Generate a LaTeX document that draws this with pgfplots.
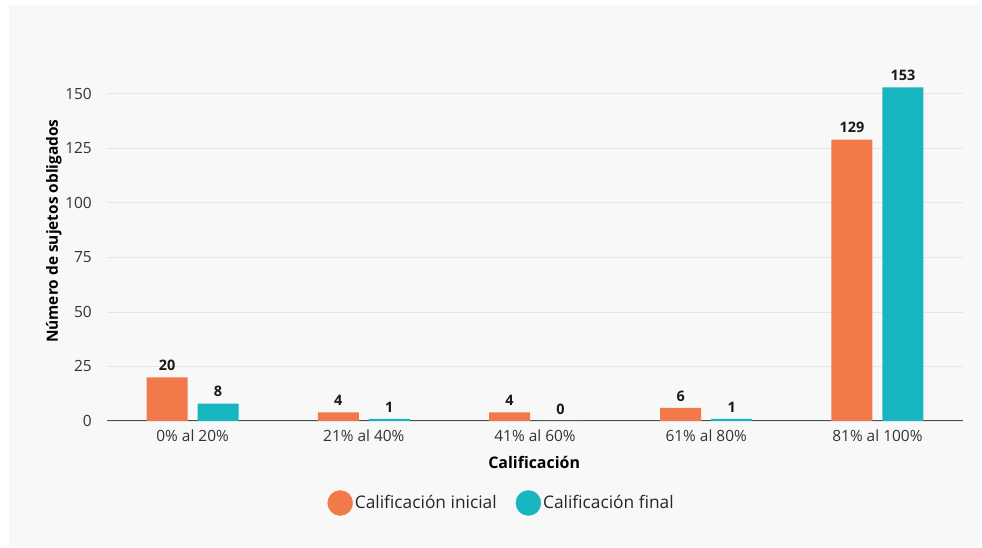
\documentclass[border=0pt]{standalone}
\usepackage{pgfplots}
\pgfplotsset{compat=1.18}
\usepackage{fontspec}
\setmainfont{Open Sans}
\definecolor{cini}{HTML}{F27A4A}
\definecolor{cfin}{HTML}{17B5C0}
\definecolor{panel}{HTML}{F8F8F8}
\definecolor{gridc}{HTML}{E6E6E6}
\definecolor{txt}{HTML}{333333}
\begin{document}
\begin{tikzpicture}[x=1bp,y=1bp]
\path[use as bounding box, fill=white] (0,0) rectangle (982,548);
\fill[panel] (9,2) rectangle (980,543);
\begin{axis}[at={(107bp,127bp)}, anchor=south west,
  scale only axis, width=856bp, height=349bp,
  xmin=-0.5, xmax=4.5, ymin=0, ymax=160,
  ybar, bar width=41bp,
  xtick={0,1,2,3,4},
  xticklabels={0\% al 20\%,21\% al 40\%,41\% al 60\%,61\% al 80\%,81\% al 100\%},
  ytick={0,25,50,75,100,125,150},
  /pgf/number format/assume math mode=true,
  ymajorgrids, grid style={gridc, line width=0.8bp},
  axis lines*=left,
  x axis line style={color=black!70, line width=1bp},
  y axis line style={draw=none},
  major tick length=0pt,
  tick label style={font=\fontsize{15.5}{18}\selectfont, color=txt},
  yticklabel style={anchor=east, inner sep=0pt, xshift=-15bp},
  xticklabel style={anchor=north, inner sep=0pt, yshift=-9bp},
  xlabel={Calificación},
  ylabel={Número de sujetos obligados},
  xlabel style={font=\bfseries\fontsize{16}{18}\selectfont, at={(axis description cs:0.499,-0.120)}, anchor=center},
  ylabel style={font=\bfseries\fontsize{15.5}{18}\selectfont, at={(axis description cs:-0.062,0.544)}, anchor=center},
  nodes near coords,
  every node near coord/.append style={font=\bfseries\fontsize{14.5}{17}\selectfont, color=black!90, anchor=south, inner sep=0pt, yshift=6.5bp},
]
\addplot[fill=cini, draw=none, bar shift=-25.5bp] coordinates {(0,20) (1,4) (2,4) (3,6) (4,129)};
\addplot[fill=cfin, draw=none, bar shift=25.5bp] coordinates {(0,8) (1,1) (2,0) (3,1) (4,153)};
\end{axis}
\begin{axis}[at={(107bp,127bp)}, anchor=south west,
  scale only axis, width=856bp, height=349bp,
  xmin=-0.5, xmax=4.5, ymin=0, ymax=160, hide axis,
  legend style={at={(axis description cs:0.461,-0.235)}, anchor=center, draw=none, fill=none,
    legend columns=2, font=\fontsize{17.4}{20}\selectfont, text=black!85,
    /tikz/every even column/.append style={column sep=17bp}},
  legend cell align=left,
]
\addlegendimage{legend image code/.code={\fill[cini] (5bp,0bp) circle (12.5bp);}}
\addlegendentry{Calificación inicial}
\addlegendimage{legend image code/.code={\fill[cfin] (5bp,0bp) circle (12.5bp);}}
\addlegendentry{Calificación final}
\end{axis}
\end{tikzpicture}
\end{document}
